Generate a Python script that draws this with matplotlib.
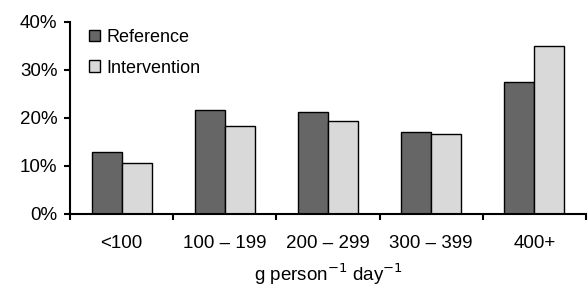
import matplotlib
matplotlib.use('Agg')
import matplotlib.pyplot as plt
import numpy as np

plt.rcParams['font.family'] = ['Liberation Sans', 'DejaVu Sans']

categories = ['<100', '100 \u2013 199', '200 \u2013 299', '300 \u2013 399', '400+']
reference = [12.9, 21.6, 21.2, 17.0, 27.4]
intervention = [10.6, 18.3, 19.3, 16.7, 34.9]

fig = plt.figure(figsize=(5.88, 2.86), dpi=100)
ax = fig.add_axes([70 / 588, 1 - 214 / 286, 516 / 588, 192 / 286])

x = np.arange(len(categories))
w = 0.29
ax.bar(x - w / 2, reference, w, color='#666666', edgecolor='black', linewidth=1, label='Reference')
ax.bar(x + w / 2, intervention, w, color='#d9d9d9', edgecolor='black', linewidth=1, label='Intervention')

fs = 13.5
ax.set_xlim(-0.5, len(categories) - 0.5)
ax.set_ylim(0, 40)
ax.set_yticks([0, 10, 20, 30, 40])
ax.set_yticklabels(['%d%%' % v for v in [0, 10, 20, 30, 40]], fontsize=fs)

ax.set_xticks(x)
ax.set_xticklabels(categories, fontsize=fs)
ax.tick_params(axis='x', which='major', length=0, pad=15)
ax.set_xticks(np.arange(-0.5, len(categories)), minor=True)
ax.tick_params(axis='x', which='minor', length=4, width=1.5)
ax.tick_params(axis='y', length=4, width=1.5, pad=5)

for s in ['top', 'right']:
    ax.spines[s].set_visible(False)
for s in ['left', 'bottom']:
    ax.spines[s].set_linewidth(1.5)

ax.set_xlabel('g person$^{\u22121}$ day$^{\u22121}$', fontsize=fs, labelpad=7)

ax.legend(loc='upper left', bbox_to_anchor=(89 / 588, 1 - 29 / 286),
          bbox_transform=fig.transFigure, frameon=False, fontsize=13,
          borderpad=0, borderaxespad=0,
          handlelength=0.62, handleheight=0.62, handletextpad=0.35, labelspacing=0.75)

fig.savefig('out.png', dpi=100)
